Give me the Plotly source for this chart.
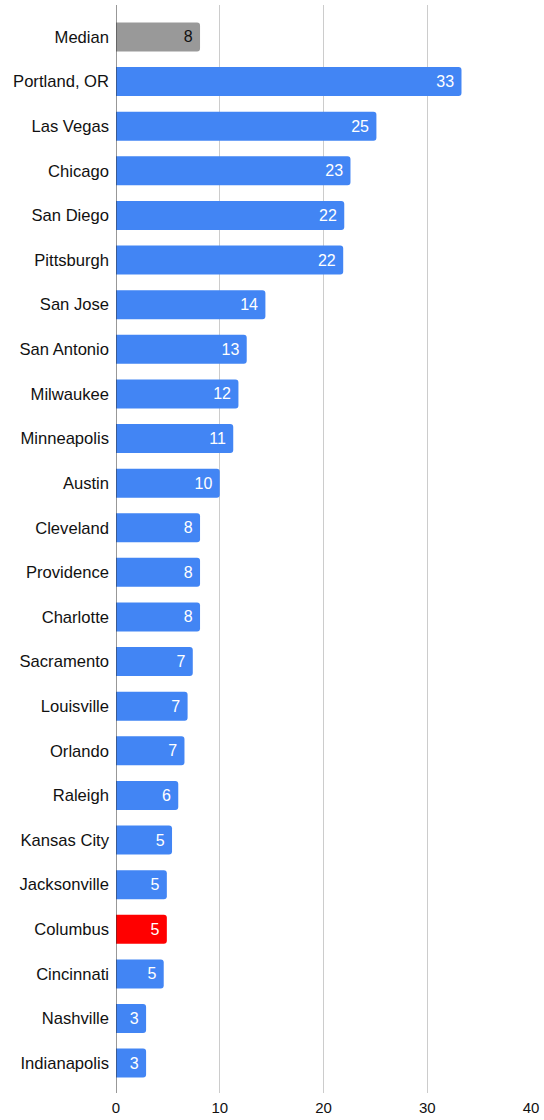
import plotly.graph_objects as go

cities = ["Median", "Portland, OR", "Las Vegas", "Chicago", "San Diego", "Pittsburgh",
          "San Jose", "San Antonio", "Milwaukee", "Minneapolis", "Austin", "Cleveland",
          "Providence", "Charlotte", "Sacramento", "Louisville", "Orlando", "Raleigh",
          "Kansas City", "Jacksonville", "Columbus", "Cincinnati", "Nashville", "Indianapolis"]
values = [8.1, 33.3, 25.1, 22.6, 22.0, 21.9, 14.4, 12.6, 11.8, 11.3, 10.0, 8.1,
          8.1, 8.1, 7.4, 6.9, 6.6, 6.0, 5.4, 4.9, 4.9, 4.6, 2.9, 2.9]
x_ticks = [0, 10, 20, 30, 40]

BLUE = "#4285F4"
GREY = "#999999"
RED = "#FF0000"

colors = []
text_colors = []
for c in cities:
    if c == "Median":
        colors.append(GREY)
        text_colors.append("#111111")
    elif c == "Columbus":
        colors.append(RED)
        text_colors.append("#ffffff")
    else:
        colors.append(BLUE)
        text_colors.append("#ffffff")

FONT = "Liberation Sans, Arial, Helvetica, sans-serif"

fig = go.Figure(go.Bar(
    x=values,
    y=cities,
    orientation="h",
    marker=dict(color=colors, line=dict(width=0), cornerradius=3),
    width=0.65,
    texttemplate="%{x:.0f} ",
    textposition="inside",
    insidetextanchor="end",
    textfont=dict(family=FONT, size=16, color=text_colors),
    hoverinfo="skip",
))

fig.update_layout(
    width=544,
    height=1120,
    margin=dict(l=116, r=13, t=5, b=27),
    paper_bgcolor="white",
    plot_bgcolor="white",
    showlegend=False,
    font=dict(family=FONT, size=16, color="#111111"),
    xaxis=dict(
        range=[0, 40],
        tickvals=x_ticks,
        showgrid=True,
        gridcolor="#cccccc",
        gridwidth=1,
        zeroline=False,
        showline=False,
        ticks="",
        automargin=False,
        ticklabelstandoff=4,
        tickfont=dict(family=FONT, size=15, color="#111111"),
        fixedrange=True,
    ),
    yaxis=dict(
        categoryorder="array",
        categoryarray=cities,
        range=[23.67, -0.717],
        showgrid=False,
        zeroline=False,
        showline=False,
        ticks="",
        automargin=False,
        ticklabelstandoff=6,
        tickfont=dict(family=FONT, size=16.6, color="#111111"),
        fixedrange=True,
    ),
)

fig.add_shape(type="line", xref="x", yref="paper", x0=0, x1=0, y0=0, y1=1,
              line=dict(color="#333333", width=1), layer="above")

fig.write_html(
    "out.html",
    config={"displayModeBar": False},
    post_script="document.body.style.margin='0';document.body.style.overflow='hidden';",
)
